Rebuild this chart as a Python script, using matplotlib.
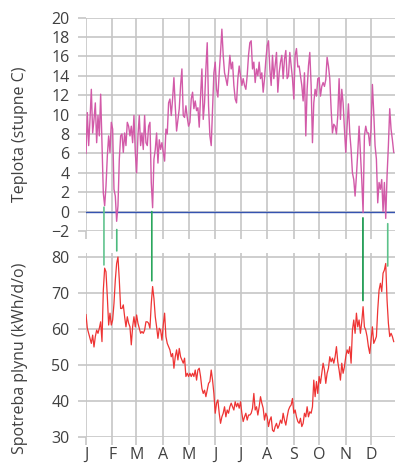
import numpy as np
import matplotlib
matplotlib.use("Agg")
import matplotlib.pyplot as plt
from matplotlib.patches import ConnectionPatch

# ---- data ----
month_days = [0, 31, 59, 90, 120, 151, 181, 212, 243, 273, 304, 334]
month_labels = ["J", "F", "M", "A", "M", "J", "J", "A", "S", "O", "N", "D"]

temp_yticks = [-2, 0, 2, 4, 6, 8, 10, 12, 14, 16, 18, 20]
gas_yticks = [30, 40, 50, 60, 70, 80]

temperature = [
    6.0, 10.2, 6.8, 9.5, 12.6, 8.1, 9.5, 11.2, 7.1, 9.9, 7.8, 12.1, 6.8, 1.9, 0.6, 2.6, 5.7, 7.8, 6.1, 9.2,
    8.5, 2.3, 1.6, -1.0, 0.6, 5.4, 7.8, 8.0, 6.1, 8.1, 6.8, 9.2, 8.8, 7.8, 8.8, 7.1, 9.9, 6.1, 4.0, 7.8,
    9.9, 6.8, 8.1, 6.4, 9.9, 7.1, 6.8, 8.8, 9.2, 3.0, 0.4, 5.4, 6.4, 8.1, 5.0, 7.4, 6.4, 7.1, 6.1,
    5.2, 8.5, 8.0, 11.2, 11.6, 9.9, 11.6, 13.8, 10.9, 8.3, 9.5, 10.6, 13.0, 14.7, 9.9, 9.7, 10.9, 9.7, 8.8, 9.2,
    11.6, 12.3, 10.6, 11.4, 10.4, 10.7, 8.7, 11.9, 14.7, 9.5, 11.2, 14.7, 17.4, 10.9, 7.8, 6.8, 10.6, 14.3, 15.4, 12.6,
    11.8, 14.3, 16.4, 18.8, 16.1, 14.3, 13.7, 13.0, 14.3, 16.1, 14.7, 15.4, 13.0, 11.6, 11.2, 13.7, 15.0, 14.0,
    13.0, 13.7, 13.0, 12.6, 14.0, 16.1, 17.4, 17.6, 14.7, 15.4, 13.3, 14.7, 14.0, 15.4, 13.7, 14.3, 12.3, 13.7, 15.6, 17.1,
    17.6, 14.7, 13.0, 16.1, 13.7, 15.0, 16.4, 12.3, 14.3, 15.4, 16.1, 13.7, 15.7, 16.6, 13.7, 14.0, 16.4, 15.0, 13.7, 11.6,
    16.1, 16.8, 14.9, 15.0, 14.0, 13.0, 11.4, 14.3, 7.8, 12.6, 15.0, 16.4, 13.0, 7.1, 11.2, 12.6, 11.9, 13.7,
    13.8, 11.9, 12.9, 13.3, 12.9, 13.6, 15.9, 15.0, 13.7, 10.6, 8.1, 9.0, 8.8, 8.0, 9.9, 13.7, 9.5, 12.6, 11.2, 8.5,
    6.1, 8.8, 11.1, 8.1, 6.4, 4.0, 3.3, 1.6, 3.7, 6.1, 8.8, 6.1, 3.3, -0.1, 7.8, 8.8, 8.1, 8.1, 6.8, 8.5,
    13.1, 10.2, 6.8, 5.4, 0.9, 3.0, 2.3, 3.3, 0.0, 3.0, -0.7, 3.7, 6.8, 10.6, 8.5, 7.4, 6.1,
]

gas = [
    64.0, 60.2, 58.8, 57.4, 56.0, 58.3, 55.0, 57.9, 59.7, 58.8, 60.2, 62.0, 56.5, 70.8, 76.9, 75.9, 69.0, 61.1, 64.4, 61.1,
    62.5, 67.1, 73.6, 78.2, 80.0, 73.6, 65.7, 65.7, 66.7, 63.4, 60.6, 63.4, 61.6, 60.6, 55.6, 60.6, 63.4, 60.6, 63.9, 61.6,
    60.2, 58.8, 59.3, 58.8, 59.7, 62.0, 62.0, 61.6, 60.2, 67.1, 71.8, 68.5, 63.4, 60.6, 57.4, 60.2, 59.7, 56.9, 61.1,
    64.4, 57.9, 56.0, 55.1, 54.2, 52.3, 53.2, 49.1, 52.3, 54.2, 51.4, 54.6, 52.3, 51.4, 50.5, 51.9, 46.8, 47.7, 46.8, 47.7,
    46.8, 47.7, 46.8, 48.6, 45.8, 48.6, 49.1, 46.8, 43.5, 42.1, 43.0, 41.2, 43.0, 44.9, 45.4, 48.6, 45.8, 42.1, 36.6, 39.4,
    40.3, 36.6, 33.8, 35.6, 36.6, 38.4, 35.6, 37.5, 36.6, 38.4, 39.4, 38.4, 37.5, 39.8, 38.4, 39.4, 38.0, 39.8,
    36.6, 34.3, 35.6, 36.6, 34.7, 36.1, 36.1, 36.6, 38.0, 42.1, 37.5, 38.4, 36.1, 38.4, 41.2, 39.4, 38.0, 34.7, 36.6, 35.6,
    32.9, 34.7, 35.6, 31.9, 31.5, 32.9, 33.8, 32.4, 33.3, 34.7, 33.8, 36.6, 34.7, 33.3, 35.6, 37.5, 38.4, 38.9, 40.7, 36.6,
    37.5, 35.6, 34.3, 33.8, 35.2, 32.9, 33.8, 36.6, 35.6, 38.4, 35.6, 37.0, 36.6, 38.4, 45.8, 41.2, 45.4, 42.1,
    46.8, 44.9, 47.7, 50.5, 48.6, 44.9, 47.7, 49.1, 52.3, 50.9, 51.9, 50.5, 52.3, 55.1, 50.9, 48.6, 45.8, 50.5, 47.7, 49.5,
    52.3, 54.2, 53.2, 55.1, 50.5, 59.7, 62.5, 58.8, 64.4, 60.6, 62.5, 58.8, 62.0, 66.2, 60.6, 59.7, 57.9, 55.1, 53.2, 56.9,
    60.6, 56.0, 56.9, 57.9, 65.3, 70.8, 72.7, 70.4, 75.5, 76.4, 78.2, 68.0, 61.6, 57.9, 58.8, 57.9, 56.5,
]

# cold-spell markers: day, temperature end, gas end
event_days = [21, 36, 77, 324, 353]
event_temp = [0.45, -1.85, 0.0, -0.65, -1.25]
event_gas = [77.8, 81.7, 73.4, 67.9, 77.5]
event_colors = ["#62c48e", "#4cba7e", "#2aa65c", "#0f9447", "#5cc28a"]

days = np.linspace(0, 360, len(temperature))

# ---- figure ----
W, H = 395, 467
fig = plt.figure(figsize=(W / 100, H / 100), dpi=100)
plt.rcParams["font.family"] = ["Open Sans", "DejaVu Sans"]

grid_c = "#c6c6c6"
text_c = "#404040"
fs_tick = 11.5
fs_label = 11.5

def px(x0, y0, x1, y1):
    return [x0 / W, 1 - y1 / H, (x1 - x0) / W, (y1 - y0) / H]

ax1 = fig.add_axes(px(86, 17.5, 395, 231))
ax2 = fig.add_axes(px(86, 253.4, 395, 437))

for ax in (ax1, ax2):
    for s in ax.spines.values():
        s.set_visible(False)
    ax.set_xlim(0, 361.5)
    ax.set_xticks(month_days)
    ax.grid(True, color=grid_c, linewidth=1.2)
    ax.set_axisbelow(True)
    ax.tick_params(length=5.8, width=1.2, color=grid_c, labelcolor=text_c,
                   labelsize=fs_tick, pad=6)

ax2.tick_params(axis="x", pad=1.5)

ax1.set_ylim(-2, 20)
ax1.set_yticks(temp_yticks)
ax1.set_xticklabels([])
ax1.axhline(0, color="#3553b0", linewidth=1.0, zorder=2)
ax1.plot(days, temperature, color="#d25aa8", linewidth=1.0, zorder=3)

ax2.set_ylim(30, 81)
ax2.set_yticks(gas_yticks)
ax2.set_xticklabels(month_labels)
ax2.plot(days, gas, color="#ee3434", linewidth=0.9, zorder=3)

for d, t, g, c in zip(event_days, event_temp, event_gas, event_colors):
    cp = ConnectionPatch(xyA=(d, t), coordsA=ax1.transData,
                         xyB=(d, g), coordsB=ax2.transData,
                         color=c, linewidth=1.2, zorder=5)
    fig.add_artist(cp)

fig.text(20 / W, 1 - 134 / H, "Teplota (stupne C)", rotation=90,
         ha="center", va="center", fontsize=fs_label, color=text_c)
fig.text(20 / W, 1 - 358 / H, "Spotreba plynu (kWh/d/o)", rotation=90,
         ha="center", va="center", fontsize=fs_label, color=text_c)

fig.savefig("out.png", dpi=100)
